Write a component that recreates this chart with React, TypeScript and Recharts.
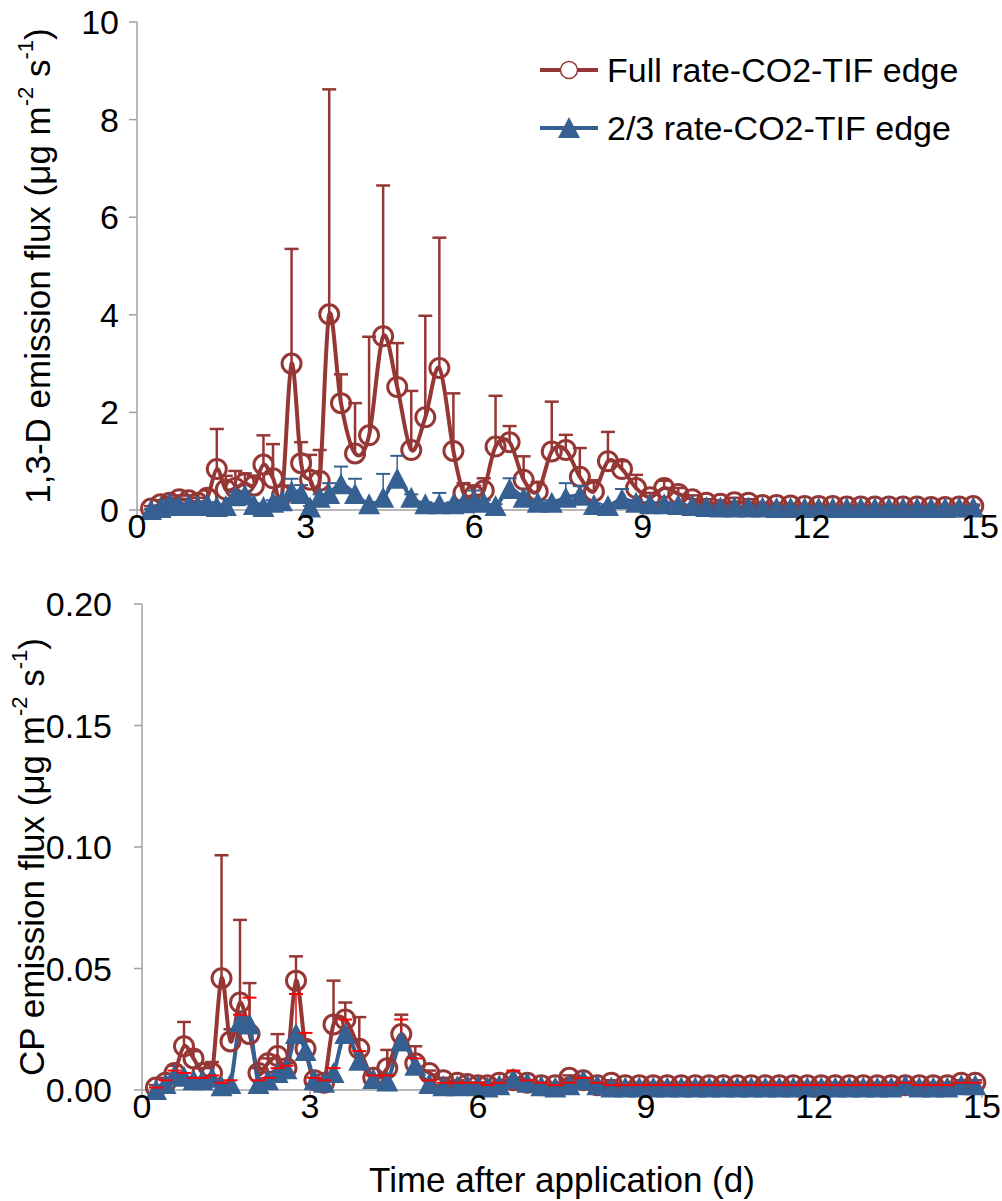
import React from "react";
import { LineChart, Line, XAxis, YAxis, ErrorBar, Legend, Label } from "recharts";

// sampling times (d)
const days = [
  0.25, 0.42, 0.58, 0.75, 0.92, 1.08, 1.25, 1.42, 1.58, 1.75,
  1.92, 2.08, 2.25, 2.42, 2.58, 2.75, 2.92, 3.08, 3.25, 3.42,
  3.63, 3.88, 4.13, 4.38, 4.63, 4.88, 5.13, 5.38, 5.63, 5.81,
  6.0, 6.17, 6.38, 6.63, 6.88, 7.13, 7.38, 7.63, 7.88, 8.13,
  8.38, 8.63, 8.88, 9.13, 9.38, 9.63, 9.88, 10.13, 10.38, 10.63,
  10.88, 11.13, 11.38, 11.63, 11.88, 12.13, 12.38, 12.63, 12.88, 13.13,
  13.38, 13.63, 13.88, 14.13, 14.38, 14.63, 14.88,
];

// 1,3-D flux, full rate (mean and mean + SD)
const dFull = [
  0.03, 0.12, 0.15, 0.22, 0.2, 0.15, 0.25, 0.84, 0.42, 0.45,
  0.55, 0.5, 0.93, 0.65, 0.3, 3.0, 0.96, 0.62, 0.6, 4.01,
  2.19, 1.16, 1.53, 3.56, 2.52, 1.23, 1.9, 2.91, 1.21, 0.35,
  0.3, 0.4, 1.3, 1.39, 0.62, 0.38, 1.2, 1.23, 0.68, 0.38,
  1.0, 0.84, 0.45, 0.26, 0.45, 0.33, 0.22, 0.15, 0.13, 0.16,
  0.15, 0.1, 0.1, 0.09, 0.08, 0.08, 0.08, 0.07, 0.07, 0.07,
  0.07, 0.07, 0.07, 0.06, 0.06, 0.07, 0.08,
];
const dFullUp = [
  0.08, 0.2, 0.25, 0.3, 0.3, 0.25, 0.4, 1.66, 0.7, 0.8,
  0.75, 0.7, 1.53, 1.35, 0.5, 5.35, 1.39, 1.13, 1.23, 8.62,
  2.78, 2.19, 3.55, 6.65, 3.42, 2.44, 3.98, 5.58, 2.39, 0.55,
  0.5, 0.65, 2.34, 1.72, 1.1, 0.57, 2.22, 1.54, 1.27, 0.61,
  1.6, 1.0, 0.72, 0.35, 0.6, 0.45, 0.3, 0.22, 0.2, 0.25,
  0.22, 0.15, 0.14, 0.13, 0.12, 0.11, 0.11, 0.1, 0.1, 0.1,
  0.1, 0.1, 0.1, 0.09, 0.09, 0.1, 0.11,
];

// 1,3-D flux, 2/3 rate
const dTwo = [
  0.0, 0.04, 0.14, 0.08, 0.1, 0.08, 0.12, 0.06, 0.08, 0.28,
  0.3, 0.1, 0.06, 0.15, 0.18, 0.38, 0.33, 0.05, 0.25, 0.33,
  0.53, 0.33, 0.12, 0.25, 0.64, 0.25, 0.12, 0.12, 0.12, 0.14,
  0.18, 0.15, 0.08, 0.43, 0.25, 0.15, 0.15, 0.25, 0.29, 0.1,
  0.08, 0.22, 0.15, 0.12, 0.12, 0.1, 0.08, 0.06, 0.05, 0.05,
  0.05, 0.05, 0.04, 0.04, 0.04, 0.04, 0.04, 0.04, 0.04, 0.04,
  0.04, 0.04, 0.04, 0.04, 0.04, 0.05, 0.05,
];
const dTwoUp = [
  0.02, 0.08, 0.2, 0.12, 0.14, 0.12, 0.16, 0.1, 0.12, 0.36,
  0.38, 0.14, 0.1, 0.2, 0.25, 0.64, 0.51, 0.08, 0.32, 0.55,
  0.89, 0.64, 0.16, 0.74, 1.11, 0.32, 0.16, 0.35, 0.16, 0.2,
  0.4, 0.2, 0.12, 0.65, 0.32, 0.2, 0.2, 0.55, 0.49, 0.14,
  0.12, 0.43, 0.2, 0.16, 0.16, 0.14, 0.11, 0.09, 0.08, 0.08,
  0.08, 0.08, 0.07, 0.07, 0.07, 0.07, 0.07, 0.07, 0.07, 0.07,
  0.07, 0.07, 0.07, 0.07, 0.07, 0.08, 0.08,
];

// CP flux, full rate
const cpFull = [
  0.001, 0.003, 0.007, 0.018, 0.013, 0.007, 0.007, 0.046, 0.02, 0.036,
  0.023, 0.007, 0.011, 0.014, 0.009, 0.045, 0.017, 0.004, 0.003, 0.027,
  0.029, 0.017, 0.005, 0.009, 0.023, 0.011, 0.007, 0.004, 0.003, 0.0025,
  0.002, 0.002, 0.003, 0.004, 0.003, 0.002, 0.002, 0.005, 0.004, 0.002,
  0.003, 0.002, 0.002, 0.002, 0.002, 0.002, 0.002, 0.002, 0.002, 0.002,
  0.002, 0.002, 0.002, 0.002, 0.002, 0.002, 0.002, 0.002, 0.002, 0.002,
  0.002, 0.002, 0.002, 0.002, 0.002, 0.003, 0.003,
];
const cpFullUp = [
  0.002, 0.005, 0.01, 0.028, 0.016, 0.009, 0.0115, 0.0966, 0.025, 0.07,
  0.044, 0.009, 0.013, 0.023, 0.011, 0.055, 0.02, 0.005, 0.004, 0.045,
  0.036, 0.03, 0.006, 0.0165, 0.031, 0.018, 0.008, 0.005, 0.004, 0.003,
  0.003, 0.003, 0.004, 0.005, 0.004, 0.003, 0.003, 0.006, 0.005, 0.003,
  0.004, 0.003, 0.003, 0.003, 0.003, 0.003, 0.003, 0.003, 0.003, 0.003,
  0.003, 0.003, 0.003, 0.003, 0.003, 0.003, 0.003, 0.003, 0.003, 0.003,
  0.003, 0.003, 0.003, 0.003, 0.003, 0.004, 0.004,
];

// CP flux, 2/3 rate
const cpTwo = [
  0.0, 0.0025, 0.006, 0.0055, 0.004, 0.004, 0.005, 0.0015, 0.0025, 0.028,
  0.027, 0.0025, 0.004, 0.007, 0.0085, 0.023, 0.016, 0.004, 0.003, 0.007,
  0.023, 0.012, 0.0045, 0.0035, 0.02, 0.01, 0.0025, 0.0015, 0.0015, 0.002,
  0.0015, 0.001, 0.002, 0.0045, 0.003, 0.0015, 0.001, 0.002, 0.004, 0.002,
  0.001, 0.001, 0.001, 0.001, 0.001, 0.001, 0.001, 0.001, 0.001, 0.001,
  0.001, 0.001, 0.001, 0.001, 0.001, 0.001, 0.001, 0.001, 0.001, 0.001,
  0.001, 0.002, 0.001, 0.001, 0.001, 0.002, 0.002,
];
const cpTwoUp = [
  0.001, 0.004, 0.008, 0.007, 0.005, 0.005, 0.006, 0.003, 0.004, 0.031,
  0.038, 0.004, 0.005, 0.009, 0.01, 0.0395, 0.0235, 0.005, 0.004, 0.009,
  0.029, 0.016, 0.006, 0.006, 0.029, 0.013, 0.004, 0.003, 0.003, 0.003,
  0.003, 0.002, 0.003, 0.008, 0.004, 0.003, 0.002, 0.003, 0.005, 0.003,
  0.002, 0.002, 0.002, 0.002, 0.002, 0.002, 0.002, 0.002, 0.002, 0.002,
  0.002, 0.002, 0.002, 0.002, 0.002, 0.002, 0.002, 0.002, 0.002, 0.002,
  0.002, 0.003, 0.002, 0.002, 0.002, 0.003, 0.003,
];

const xTicks = [0, 3, 6, 9, 12, 15];
const dTicks = [0, 2, 4, 6, 8, 10];
const cpTicks = [0, 0.05, 0.1, 0.15, 0.2];

const FONT = "'Liberation Sans', Arial, sans-serif";
const RED = "#953735";
const BLUE = "#376092";
const GREY = "#a0a0a0";

const buildRows = (a: number[], aUp: number[], b: number[], bUp: number[]) =>
  days.map((t, i) => ({
    t,
    a: a[i],
    aErr: [0, aUp[i] - a[i]],
    aCap: aUp[i],
    b: b[i],
    bErr: [0, bUp[i] - b[i]],
    bCap: bUp[i],
  }));

const dRows = buildRows(dFull, dFullUp, dTwo, dTwoUp);
const cpRows = buildRows(cpFull, cpFullUp, cpTwo, cpTwoUp);

// Excel-style smoothed line (Bezier through points, tension 1/6)
const excelSmooth = (context: any) => {
  let pts: number[][] = [];
  return {
    areaStart() {},
    areaEnd() {},
    lineStart() {
      pts = [];
    },
    point(x: number, y: number) {
      pts.push([+x, +y]);
    },
    lineEnd() {
      const n = pts.length;
      if (!n) return;
      context.moveTo(pts[0][0], pts[0][1]);
      for (let i = 0; i < n - 1; i++) {
        const p0 = pts[Math.max(i - 1, 0)];
        const p1 = pts[i];
        const p2 = pts[i + 1];
        const p3 = pts[Math.min(i + 2, n - 1)];
        context.bezierCurveTo(
          p1[0] + (p2[0] - p0[0]) / 6,
          p1[1] + (p2[1] - p0[1]) / 6,
          p2[0] - (p3[0] - p1[0]) / 6,
          p2[1] - (p3[1] - p1[1]) / 6,
          p2[0],
          p2[1]
        );
      }
    },
  };
};

const triangleDot = (p: any) => {
  const { cx, cy, index } = p;
  if (cx == null || cy == null) return <g key={`tri-${index}`} />;
  return (
    <polygon
      key={`tri-${index}`}
      points={`${cx},${cy - 11} ${cx - 11},${cy + 10} ${cx + 11},${cy + 10}`}
      fill={BLUE}
    />
  );
};

const capDot = (color: string, w: number) => (p: any) => {
  const { cx, cy, index } = p;
  if (cx == null || cy == null) return <g key={`cap-${index}`} />;
  return (
    <line
      key={`cap-${index}`}
      x1={cx - 7}
      x2={cx + 7}
      y1={cy}
      y2={cy}
      stroke={color}
      strokeWidth={w}
    />
  );
};

const FluxTitle = ({ x, y, lead }: { x: number; y: number; lead: string }) => (
  <text
    transform={`translate(${x},${y}) rotate(-90)`}
    textAnchor="middle"
    dominantBaseline="central"
    fontSize={35}
    fontFamily={FONT}
    fill="#000"
  >
    {lead + " (μg m"}
    <tspan dy={-12} fontSize={22}>-2</tspan>
    <tspan dy={12}> s</tspan>
    <tspan dy={-12} fontSize={22}>-1</tspan>
    <tspan dy={12}>)</tspan>
  </text>
);

const LegendBox = () => (
  <div style={{ fontFamily: FONT, fontSize: 34, color: "#000" }}>
    {[
      { name: "Full rate-CO2-TIF edge", mark: "circle" },
      { name: "2/3 rate-CO2-TIF edge", mark: "tri" },
    ].map((it) => (
      <div key={it.name} style={{ display: "flex", alignItems: "center", height: 58, whiteSpace: "nowrap" }}>
        <svg width={64} height={30} style={{ marginRight: 5 }}>
          <line x1={2} x2={60} y1={15} y2={15} stroke={it.mark === "circle" ? RED : BLUE} strokeWidth={4} />
          {it.mark === "circle" ? (
            <circle cx={31} cy={15} r={8.5} fill="#fff" stroke={RED} strokeWidth={1.5} />
          ) : (
            <polygon points="31,4 20,25 42,25" fill={BLUE} />
          )}
        </svg>
        <span>{it.name}</span>
      </div>
    ))}
  </div>
);

const tickStyle = { fill: "#000", fontSize: 34, fontFamily: FONT };

const App = () => {
  return (
    <div style={{ position: "absolute", left: 0, top: 0, width: 1002, height: 1201, background: "#fff" }}>
      <LineChart width={1002} height={560} data={dRows} margin={{ top: 22, right: 22, left: 0, bottom: 0 }}>
        <XAxis
          dataKey="t"
          type="number"
          domain={[0, 15]}
          ticks={xTicks}
          height={50}
          stroke={GREY}
          strokeWidth={1.5}
          tickSize={8}
          tickMargin={-4}
          tick={tickStyle}
        />
        <YAxis
          type="number"
          domain={[0, 10]}
          ticks={dTicks}
          width={137}
          stroke={GREY}
          strokeWidth={1.5}
          tickSize={8}
          tickMargin={10}
          tick={tickStyle}
        >
          <Label
            content={(p: any) => (
              <FluxTitle x={37} y={p.viewBox.y + p.viewBox.height / 2} lead="1,3-D emission flux" />
            )}
          />
        </YAxis>
        <Legend
          layout="vertical"
          align="center"
          verticalAlign="middle"
          content={() => <LegendBox />}
          wrapperStyle={{ top: 41, left: 538, width: 460, height: 120 }}
        />
        <Line
          dataKey="a"
          type={excelSmooth as any}
          stroke={RED}
          strokeWidth={4}
          dot={{ r: 9.5, fill: "none", stroke: RED, strokeWidth: 3 }}
          activeDot={false}
          isAnimationActive={false}
        >
          <ErrorBar dataKey="aErr" width={0} stroke={RED} strokeWidth={2.5} direction="y" />
        </Line>
        <Line dataKey="aCap" stroke="none" dot={capDot(RED, 2.5)} activeDot={false} legendType="none" isAnimationActive={false} />
        <Line
          dataKey="b"
          type={excelSmooth as any}
          stroke={BLUE}
          strokeWidth={4}
          dot={triangleDot}
          activeDot={false}
          isAnimationActive={false}
        >
          <ErrorBar dataKey="bErr" width={0} stroke={BLUE} strokeWidth={1.5} direction="y" />
        </Line>
        <Line dataKey="bCap" stroke="none" dot={capDot(BLUE, 2)} activeDot={false} legendType="none" isAnimationActive={false} />
      </LineChart>

      <LineChart width={1002} height={641} data={cpRows} margin={{ top: 44, right: 20, left: 0, bottom: 0 }}>
        <XAxis
          dataKey="t"
          type="number"
          domain={[0, 15]}
          ticks={xTicks}
          height={111}
          stroke={GREY}
          strokeWidth={1.5}
          tickSize={8}
          tickMargin={-4}
          tick={tickStyle}
        >
          <Label
            content={(p: any) => (
              <text
                x={p.viewBox.x + p.viewBox.width / 2}
                y={p.viewBox.y + 102}
                textAnchor="middle"
                fontSize={35}
                fontFamily={FONT}
                fill="#000"
              >
                Time after application (d)
              </text>
            )}
          />
        </XAxis>
        <YAxis
          type="number"
          domain={[0, 0.2]}
          ticks={cpTicks}
          tickFormatter={(v: number) => v.toFixed(2)}
          width={142}
          stroke={GREY}
          strokeWidth={1.5}
          tickSize={8}
          tickMargin={22}
          tick={tickStyle}
        >
          <Label
            content={(p: any) => (
              <FluxTitle x={31} y={p.viewBox.y + p.viewBox.height / 2 + 10} lead="CP emission flux" />
            )}
          />
        </YAxis>
        <Line
          dataKey="a"
          type={excelSmooth as any}
          stroke={RED}
          strokeWidth={4}
          dot={{ r: 9.5, fill: "none", stroke: RED, strokeWidth: 3 }}
          activeDot={false}
          isAnimationActive={false}
        >
          <ErrorBar dataKey="aErr" width={0} stroke={RED} strokeWidth={2.5} direction="y" />
        </Line>
        <Line dataKey="aCap" stroke="none" dot={capDot(RED, 2.5)} activeDot={false} legendType="none" isAnimationActive={false} />
        <Line
          dataKey="b"
          type={excelSmooth as any}
          stroke={BLUE}
          strokeWidth={4}
          dot={triangleDot}
          activeDot={false}
          isAnimationActive={false}
        >
          <ErrorBar dataKey="bErr" width={0} stroke="#ff0000" strokeWidth={1.5} direction="y" />
        </Line>
        <Line dataKey="bCap" stroke="none" dot={capDot("#ff0000", 2)} activeDot={false} legendType="none" isAnimationActive={false} />
      </LineChart>
    </div>
  );
};

export default App;
